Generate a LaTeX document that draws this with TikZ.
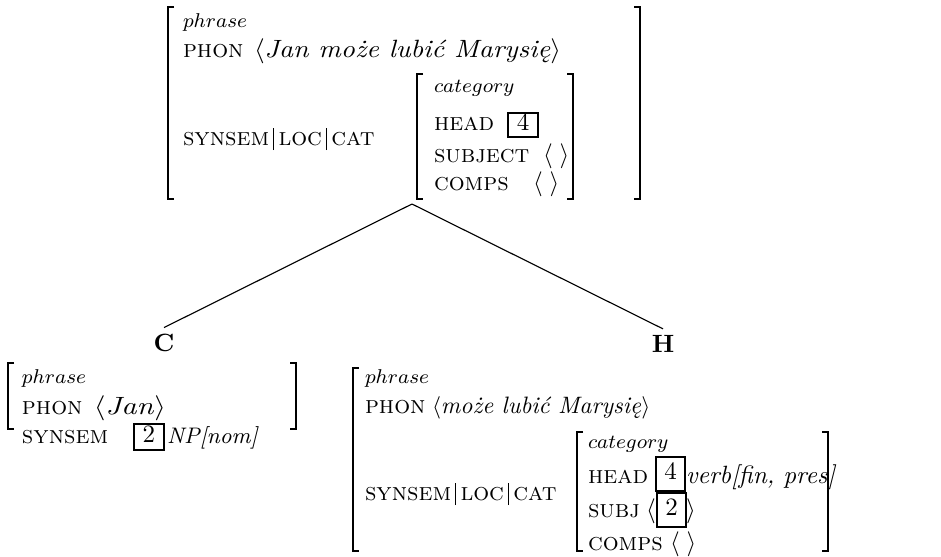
\documentclass[tikz,border=0pt]{standalone}
\usepackage{graphicx}
\usepackage{fontspec}
\begin{document}
\begin{tikzpicture}[x=0.4pt,y=-0.4pt,
  txt/.style={anchor=base west,inner sep=0pt,outer sep=0pt},
  hdr/.style={txt,font=\footnotesize},
  lab/.style={anchor=base,inner sep=0pt,outer sep=2.4pt,font=\bfseries},
  brk/.style={line width=1pt},
  edge/.style={line width=0.45pt},
  tagb/.style={draw,line width=1.1pt,inner sep=0pt,text height=6.8pt,text depth=2.4pt,align=center}]
\useasboundingbox (0,0) rectangle (941,556);
\newcommand{\vb}{\,\vrule height 6.8pt depth 2pt width 0.4pt\,}
% ---------- top AVM ----------
\draw[brk] (174,7) -- (168,7) -- (168,199) -- (174,199);
\draw[brk] (634,7) -- (640,7) -- (640,199) -- (634,199);
\node[hdr] (tphr) at (183,27) {$phrase$};
\node[txt] (tphon) at (183,57) {\textsc{phon}};
\node[txt] (tphonv) at (254,57) {\scalebox{1.1}[1]{$\langle$\textit{Jan może lubić Marysię}$\rangle$}};
\node[txt] (tsyn) at (183,145) {\textsc{synsem}\vb\textsc{loc}\vb\textsc{cat}};
\draw[brk] (423,74) -- (417,74) -- (417,199) -- (423,199);
\draw[brk] (567,74) -- (573,74) -- (573,199) -- (567,199);
\node[hdr] (tcat) at (434,92) {$category$};
\node[txt] (thead) at (434,130) {\textsc{head}};
\node[tagb,minimum width=12pt,minimum height=9.6pt] (tt4) at (523,125) {4};
\node[txt] (tsubj) at (434,162) {\textsc{subject}};
\node[txt] (tsubjv) at (543,162) {$\langle\;\rangle$};
\node[txt] (tcomps) at (434,190) {\textsc{comps}};
\node[txt] (tcompsv) at (533,190) {$\langle\;\rangle$};
\coordinate (apex) at (412,204);
% ---------- daughters labels ----------
\node[lab] (C) at (164,351) {C};
\node[lab] (H) at (663,352) {H};
\draw[edge] (apex) -- (C.north);
\draw[edge] (apex) -- (H.north);
% ---------- left AVM ----------
\draw[brk] (14,363) -- (8,363) -- (8,429) -- (14,429);
\draw[brk] (290,363) -- (296,363) -- (296,429) -- (290,429);
\node[hdr] (lphr) at (22,383) {$phrase$};
\node[txt] (lphon) at (22,414) {\textsc{phon}};
\node[txt] (lphonv) at (94,414) {\scalebox{1.2}[1]{$\langle$\textit{Jan}$\rangle$}};
\node[txt] (lsyn) at (22,443) {\textsc{synsem}};
\node[tagb,minimum width=12pt,minimum height=10.4pt] (lt2) at (149,437) {2};
\node[txt] (lnp) at (167,443) {\fontsize{9}{11}\selectfont\itshape NP[nom]};
% ---------- right AVM ----------
\draw[brk] (359,368) -- (353,368) -- (353,551) -- (359,551);
\node[hdr] (rphr) at (365,383) {$phrase$};
\node[txt] (rphon) at (365,413) {\textsc{phon}};
\node[txt] (rphonv) at (432,413) {\fontsize{9.5}{11}\selectfont$\langle$\textit{może lubić Marysię}$\rangle$};
\node[txt] (rsyn) at (365,500) {\textsc{synsem}\vb\textsc{loc}\vb\textsc{cat}};
\draw[brk] (583,432) -- (577,432) -- (577,551) -- (583,551);
\draw[brk] (822,432) -- (828,432) -- (828,551) -- (822,551);
\node[hdr] (rcat) at (588,448) {$category$};
\node[txt] (rhead) at (588,483) {\textsc{head}};
\node[tagb,minimum width=11.6pt,minimum height=13.6pt] (rt4) at (670.5,474) {4};
\node[txt] (rverb) at (686,483) {\itshape verb[fin, pres]};
\node[txt] (rsubj) at (588,517) {\textsc{subj}};
\node[txt] (rsl) at (646,517) {$\langle$};
\node[tagb,minimum width=11.6pt,minimum height=13.6pt] (rt2) at (671.5,510) {2};
\node[txt] (rsr) at (686,517) {$\rangle$};
\node[txt] (rcomps) at (588,550) {\textsc{comps}};
\node[txt] (rcompsv) at (670,550) {$\langle\;\rangle$};
\end{tikzpicture}
\end{document}
